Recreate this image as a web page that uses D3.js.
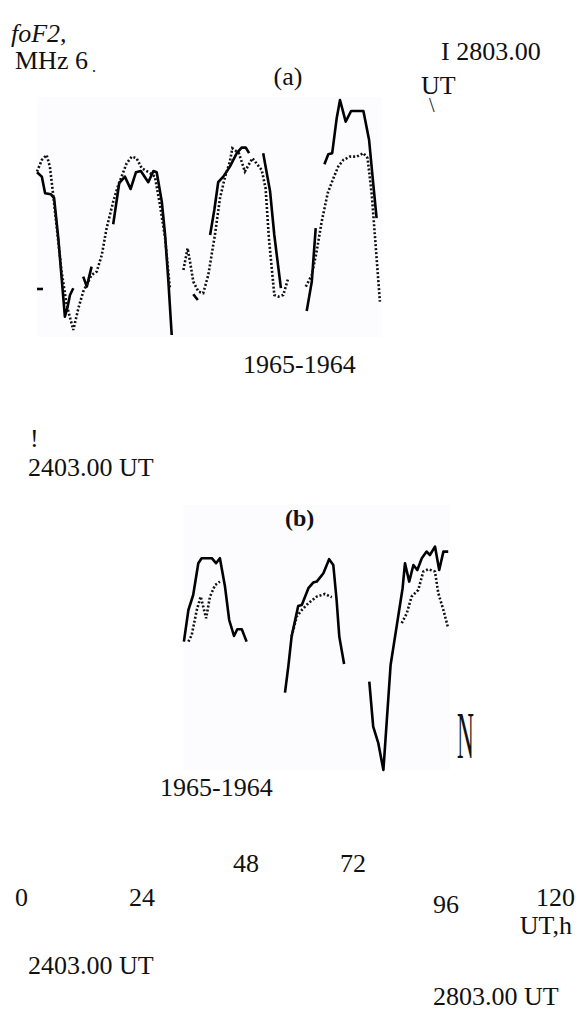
<!DOCTYPE html>
<html>
<head>
<meta charset="utf-8">
<script src="https://cdn.jsdelivr.net/npm/d3@7/dist/d3.min.js"></script>
<style>
  body { margin: 0; background: #fff; }
  svg text { font-family: "Liberation Serif", "Times New Roman", serif; fill: #111; }
</style>
</head>
<body>
<div id="chart"></div>
<script>
// foF2 values: [UT hours, MHz]; solid = 1965, dotted = 1964

// panel (a)
const aSolid1 = [[0, 8.24], [1.6, 8.02], [2.7, 7.19], [4.6, 7.14], [5.7, 6.94], [7.1, 4.94], [9.3, 1.02], [10.1, 1.44], [11, 2.1], [12.1, 2.44]];
const aSolid2 = [[15.4, 3.02], [16.6, 2.52], [18.2, 3.52]];
const aSolid3 = [[25.4, 5.64], [27.4, 7.69], [29.3, 8.02], [31.2, 7.4], [33, 8.24], [34.6, 8.3], [37.1, 7.74], [38.8, 8.3], [39.9, 8.24], [41.6, 6.77], [42.7, 5.1], [43.8, 2.77], [44.9, 0.1]];
const aSolid4 = [[52.1, 2.14], [53.6, 1.85]];
const aSolid5 = [[57.7, 5.1], [59.1, 6.35], [60.4, 7.74], [62.1, 8.02], [64.3, 8.52], [66.6, 9.19], [68.2, 9.47], [69.6, 9.47], [70.7, 9.19]];
const aSolid6 = [[75.4, 9.19], [77.7, 7.27], [79.1, 5.1], [81.3, 2.44]];
const aSolid7 = [[89.9, 1.3], [91.6, 2.77], [92.9, 5.44]];
const aSolid8 = [[95.8, 8.64], [97.1, 9.14], [98.4, 9.19], [99.9, 10.94], [101, 11.85], [102.9, 10.77], [104.7, 11.3], [108.8, 11.3], [110.7, 9.85], [111.9, 7.94], [113.2, 5.94]];
const aStub = [[0, 2.4], [2, 2.4]];

const aDotted1 = [[0, 8.27], [1.6, 8.85], [3.2, 9.1], [4.3, 8.52], [5.4, 7.1], [6.6, 5.44], [8.2, 3.27], [9.9, 1.6], [12.1, 0.35], [13.8, 1.44], [15.4, 2.27], [18.2, 3.1], [19.9, 3.27], [21.6, 4.1], [23.2, 5.44], [25.4, 6.77], [27.1, 7.6], [29.9, 8.69], [31.6, 9.02], [33.2, 8.94], [34.9, 8.44], [37.7, 8.19], [39.3, 8.02], [41, 6.6], [42.7, 4.94], [44.3, 2.44]];
const aDotted2 = [[48.8, 3.35], [50.2, 4.44], [51, 3.77], [52.1, 2.77], [53.8, 2.27], [55.4, 2.19], [57.1, 3.1], [59.3, 5.1], [61, 6.94], [62.7, 8.02], [64.3, 8.77], [65.1, 9.44], [67.3, 9.19], [69.3, 8.27], [71.8, 8.94], [74.9, 8.35], [76.2, 7.44], [77.3, 4.94], [79.1, 2.1], [80.4, 2.02], [82.1, 2.1], [83.8, 2.97]];
const aDotted3 = [[89.6, 2.52], [91.6, 3.1], [93.2, 4.27], [94.9, 5.77], [96.9, 7.19], [98.8, 7.94], [100.4, 8.52], [102.1, 8.85], [104.3, 9.02], [106.6, 9.02], [108.8, 9.19], [110.2, 8.94], [111.6, 7.1], [112.7, 4.94], [114.3, 1.77]];

// panel (b)
const bSolid1 = [[0.3, 6.42], [1.8, 8], [3.4, 8.75], [5.1, 10.34], [6.2, 10.59], [9.6, 10.59], [11, 10.34], [12.3, 10.59], [14, 9.17], [15.4, 7.5], [17, 6.7], [18.1, 7.04], [19.6, 7.04], [21.2, 6.42]];
const bSolid2 = [[34, 3.87], [35.1, 5.17], [36.2, 6.67], [38.4, 8.2], [39.6, 8.25], [41.8, 9.09], [43.4, 9.37], [44.6, 9.42], [46.8, 9.84], [48.7, 10.54], [50.1, 10.25], [51.2, 8.5], [52.1, 6.67], [53.7, 5.3]];
const bSolid3 = [[62.1, 4.42], [63.4, 2.17], [65.1, 1.34], [66.8, 0], [69.2, 5.25], [71.2, 7.17], [73.2, 9.09], [74, 10.34], [75.4, 9.42], [76.8, 10.25], [78.1, 10], [79.6, 10.59], [81.2, 10.92], [82.3, 10.75], [84, 11.17], [85.4, 10], [86.8, 10.92], [88.4, 10.92]];

const bDotted1 = [[1.8, 6.42], [2.9, 6.75], [4.6, 8], [5.9, 8.67], [7.7, 7.59], [9, 8.67], [10.7, 9.25], [12.3, 9.42]];
const bDotted2 = [[36.2, 6.67], [37.9, 7.67], [39.6, 8], [41.8, 8.34], [44.6, 8.67], [47.3, 8.8], [49.6, 8.64]];
const bDotted3 = [[72.9, 7.34], [74.6, 7.84], [76.2, 8.67], [78.4, 9], [80.1, 9.92], [81.8, 10.04], [84, 9.92], [85.1, 8.84], [86.8, 8], [88.4, 7.09]];

// loose tick labels of the UT axis
const tickLabels = ['0', '24', '48', '72', '96', '120'];

class FoF2Chart {
  defaultOption() {
    return {
      width: 576,
      height: 1010,
      fontSize: 26,
      panelA: { left: 37, right: 382, bottom: 337, top: 97, xMax: 115, yMax: 12 },
      panelB: { left: 183, right: 450, bottom: 770, top: 505, xMax: 89, yMax: 13.25 },
      background: '#fcfbfe',
      // scattered positions of the tick labels in the scan
      tickPos: [[15, 906], [129, 906], [233, 872], [340, 872], [433, 913], [536, 906]]
    };
  }

  constructor(selector, option) {
    this.selector = selector;
    this.config = Object.assign(this.defaultOption(), option || {});
    this.svg = d3.select(selector).append('svg')
      .attr('width', this.config.width)
      .attr('height', this.config.height);
  }

  /**
   * one panel: background box + solid / dotted pieces
   */
  drawPanel(p, solids, dotteds) {
    const x = d3.scaleLinear().domain([0, p.xMax]).range([p.left, p.right]);
    const y = d3.scaleLinear().domain([0, p.yMax]).range([p.bottom, p.top]);
    const line = d3.line().x(d => x(d[0])).y(d => y(d[1]));

    this.svg.append('rect')
      .attr('x', x(0)).attr('y', y(p.yMax))
      .attr('width', x(p.xMax) - x(0)).attr('height', y(0) - y(p.yMax))
      .attr('fill', this.config.background);

    const g = this.svg.append('g');
    g.selectAll('.solid').data(solids).enter().append('path')
      .attr('class', 'solid')
      .attr('d', line)
      .attr('fill', 'none').attr('stroke', '#000')
      .attr('stroke-width', 2.6).attr('stroke-linejoin', 'round');

    g.selectAll('.dotted').data(dotteds).enter().append('path')
      .attr('class', 'dotted')
      .attr('d', line)
      .attr('fill', 'none').attr('stroke', '#111')
      .attr('stroke-width', 2.6).attr('stroke-dasharray', '2,2');
  }

  text(str, x, y, opts) {
    opts = opts || {};
    const t = this.svg.append('text')
      .attr('x', x).attr('y', y)
      .attr('font-size', (opts.size || this.config.fontSize) + 'px')
      .attr('text-anchor', opts.anchor || 'start')
      .text(str);
    if (opts.italic) t.attr('font-style', 'italic');
    if (opts.bold) t.attr('font-weight', 'bold');
    if (opts.transform) t.attr('transform', opts.transform);
    return t;
  }

  drawLabels() {
    const that = this;
    this.text('foF2,', 11, 42, { italic: true });
    this.text('MHz 6', 15, 69);
    this.text('.', 92, 72, { size: 16 });
    this.text('(a)', 288, 85, { anchor: 'middle' });
    this.text('I 2803.00', 441, 60);
    this.text('UT', 421, 94);
    this.text('\\', 429, 112, { size: 20 });
    this.text('1965-1964', 243, 373);

    this.text('!', 30, 447);
    this.text('2403.00 UT', 28, 476);
    this.text('(b)', 285, 526, { bold: true, size: 24 });
    this.text('N', 0, 0, { size: 26, transform: 'translate(457,758) scale(0.9,2.6)' });
    this.text('1965-1964', 160, 796);

    this.svg.selectAll('.tick').data(tickLabels).enter().append('text')
      .attr('class', 'tick')
      .attr('x', (d, i) => that.config.tickPos[i][0])
      .attr('y', (d, i) => that.config.tickPos[i][1])
      .attr('font-size', this.config.fontSize + 'px')
      .text(d => d);

    this.text('UT,h', 572, 934, { anchor: 'end' });
    this.text('2403.00 UT', 28, 974);
    this.text('2803.00 UT', 433, 1005);
  }

  draw() {
    this.drawPanel(this.config.panelA,
      [aSolid1, aSolid2, aSolid3, aSolid4, aSolid5, aSolid6, aSolid7, aSolid8, aStub],
      [aDotted1, aDotted2, aDotted3]);
    this.drawPanel(this.config.panelB,
      [bSolid1, bSolid2, bSolid3],
      [bDotted1, bDotted2, bDotted3]);
    this.drawLabels();
  }
}

new FoF2Chart('#chart').draw();
</script>
</body>
</html>
